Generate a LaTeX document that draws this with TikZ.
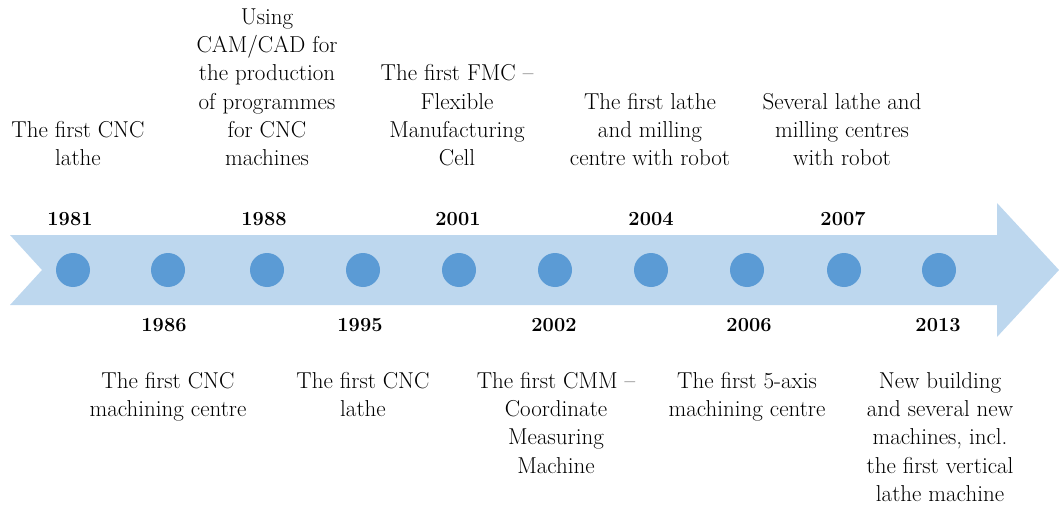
\documentclass[tikz,border=0pt]{standalone}
\usepackage{tikz}
\usetikzlibrary{arrows}
\definecolor{bandblue}{RGB}{189,215,238}
\definecolor{dotblue}{RGB}{91,155,213}

\begin{document}
\begin{tikzpicture}[x=1pt,y=-1pt,line cap=round,
    dot/.style={circle,fill=dotblue,inner sep=0pt,minimum size=34pt},
    yr/.style={anchor=base,font=\fontsize{20}{26}\selectfont\bfseries},
    txt/.style={align=center,inner sep=0pt,font=\fontsize{23}{28.3}\selectfont}]
            \useasboundingbox (0,0) rectangle (1059,505);
            \fill[bandblue] (10,235) -- (997,235) -- (997,203) -- (1059,270) -- (997,337) -- (997,305) -- (10,305) -- (42,270) -- cycle;  %band
            \node[dot] (d1981) at (73,270) {};
            \node[dot] (d1986) at (168,270) {};
            \node[dot] (d1988) at (267,270) {};
            \node[dot] (d1995) at (363,270) {};
            \node[dot] (d2001) at (459,270) {};
            \node[dot] (d2002) at (555,270) {};
            \node[dot] (d2004) at (651,270) {};
            \node[dot] (d2006) at (747,270) {};
            \node[dot] (d2007) at (844,270) {};
            \node[dot] (d2013) at (939,270) {};
            % years above
            \node[yr] (y1981) at (70,225) {1981};
            \node[yr] (y1988) at (264,225) {1988};
            \node[yr] (y2001) at (458,225) {2001};
            \node[yr] (y2004) at (651,225) {2004};
            \node[yr] (y2007) at (843,225) {2007};
            % years below
            \node[yr] (y1986) at (164,331) {1986};
            \node[yr] (y1995) at (360,331) {1995};
            \node[yr] (y2002) at (554,331) {2002};
            \node[yr] (y2006) at (749,331) {2006};
            \node[yr] (y2013) at (938,331) {2013};
            % texts above
            \node[txt,anchor=south,text depth=0pt] (t1981) at (78,166) {The first CNC\\lathe};
            \node[txt,anchor=south,text depth=0pt] (t1988) at (267,166) {Using\\CAM/CAD for\\the production\\of programmes\\for CNC\\machines};
            \node[txt,anchor=south,text depth=0pt] (t2001) at (457,166) {The first FMC --\\Flexible\\Manufacturing\\Cell};
            \node[txt,anchor=south,text depth=0pt] (t2004) at (650,166) {The first lathe\\and milling\\centre with robot};
            \node[txt,anchor=south,text depth=0pt] (t2007) at (842,166) {Several lathe and\\milling centres\\with robot};
            % texts below
            \node[txt,anchor=north] (t1986) at (168,372) {The first CNC\\machining centre};
            \node[txt,anchor=north] (t1995) at (363,372) {The first CNC\\lathe};
            \node[txt,anchor=north] (t2002) at (556,372) {The first CMM --\\Coordinate\\Measuring\\Machine};
            \node[txt,anchor=north] (t2006) at (747,372) {The first 5-axis\\machining centre};
            \node[txt,anchor=north] (t2013) at (940,372) {New building\\and several new\\machines, incl.\\the first vertical\\lathe machine};
\end{tikzpicture}
\end{document}
